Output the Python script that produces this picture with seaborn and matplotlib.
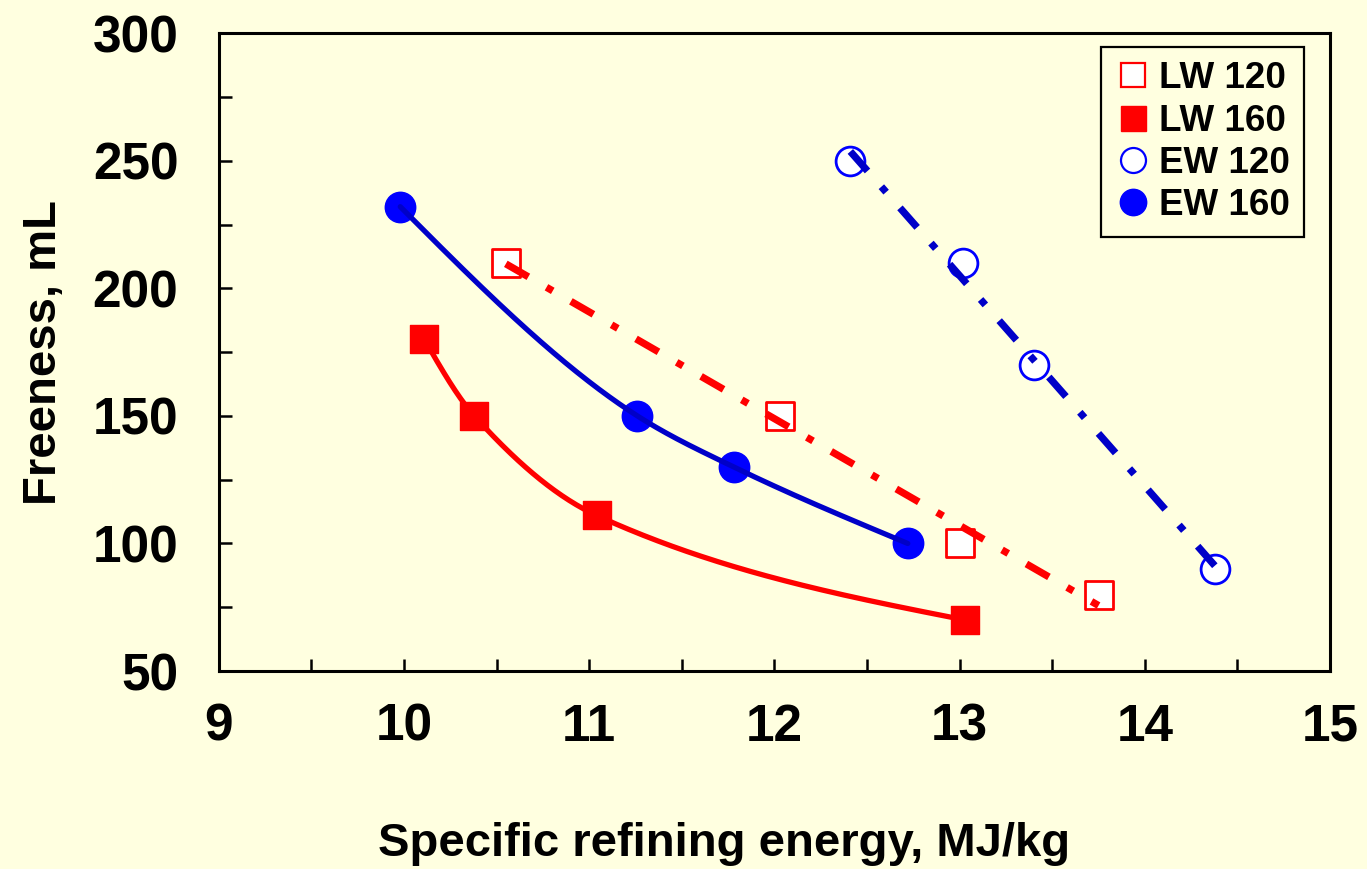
import numpy as np
import matplotlib
matplotlib.use("Agg")
import matplotlib.pyplot as plt
from matplotlib.lines import Line2D
import seaborn as sns

# Specific refining energy (MJ/kg) vs freeness (mL)
lw120_x = [10.55, 12.03, 13.00, 13.75]
lw120_y = [210, 150, 100, 80]
lw160_x = [10.11, 10.38, 11.04, 13.03]
lw160_y = [180, 150, 111, 70]
ew120_x = [12.41, 13.02, 13.40, 14.38]
ew120_y = [250, 210, 170, 90]
ew160_x = [9.98, 11.26, 11.78, 12.72]
ew160_y = [232, 150, 130, 100]

x_ticks = [9, 10, 11, 12, 13, 14, 15]
y_ticks = [50, 100, 150, 200, 250, 300]

BG = "#FFFFE0"
RED = "#FF0000"
BLUE = "#0000FF"
DARK_BLUE = "#0000C8"

sns.set_style("ticks")
plt.rcParams["font.family"] = ["Liberation Sans", "DejaVu Sans"]
plt.rcParams["font.weight"] = "bold"
plt.rcParams["text.color"] = "black"
plt.rcParams["axes.labelcolor"] = "black"
plt.rcParams["xtick.color"] = "black"
plt.rcParams["ytick.color"] = "black"

fig = plt.figure(figsize=(13.67, 8.69), dpi=100, facecolor=BG)
ax = fig.add_axes([0.160, 0.2278, 0.813, 0.734])
ax.set_facecolor(BG)
ax.set_xlim(9, 15)
ax.set_ylim(50, 300)


def linear_trend(xs, ys, n=100):
    k, b = np.polyfit(xs, ys, 1)
    xx = np.linspace(min(xs), max(xs), n)
    return xx, k * xx + b


def smooth_curve(xs, ys, n=300):
    # shape-preserving cubic Hermite curve through the points,
    # with free (quadratic) end tangents
    x = np.asarray(xs, float)
    y = np.asarray(ys, float)
    h = np.diff(x)
    d = np.diff(y) / h
    m = np.zeros_like(x)
    for k in range(1, len(x) - 1):
        if d[k - 1] * d[k] > 0:
            w1 = 2 * h[k] + h[k - 1]
            w2 = h[k] + 2 * h[k - 1]
            m[k] = (w1 + w2) / (w1 / d[k - 1] + w2 / d[k])
    m[0] = (3 * d[0] - m[1]) / 2
    m[-1] = (3 * d[-1] - m[-2]) / 2
    xx = np.linspace(x[0], x[-1], n)
    idx = np.clip(np.searchsorted(x, xx) - 1, 0, len(x) - 2)
    t = (xx - x[idx]) / h[idx]
    h00 = 2 * t ** 3 - 3 * t ** 2 + 1
    h10 = t ** 3 - 2 * t ** 2 + t
    h01 = -2 * t ** 3 + 3 * t ** 2
    h11 = t ** 3 - t ** 2
    yy = (h00 * y[idx] + h10 * h[idx] * m[idx]
          + h01 * y[idx + 1] + h11 * h[idx] * m[idx + 1])
    return xx, yy


dashdot = (0, (3.6, 2.9, 1.0, 2.9))

# markers
sns.scatterplot(x=lw120_x, y=lw120_y, marker="s", s=380, facecolor="white",
                edgecolor=RED, linewidth=2, ax=ax, zorder=3)
sns.scatterplot(x=lw160_x, y=lw160_y, marker="s", s=410, color=RED,
                edgecolor=RED, linewidth=1, ax=ax, zorder=3)
sns.scatterplot(x=ew120_x, y=ew120_y, marker="o", s=430, facecolor="white",
                edgecolor=BLUE, linewidth=2, ax=ax, zorder=3)
sns.scatterplot(x=ew160_x, y=ew160_y, marker="o", s=480, color=BLUE,
                edgecolor=BLUE, linewidth=1, ax=ax, zorder=3)

# trend lines and smoothed curves
tx, ty = linear_trend(lw120_x, lw120_y)
sns.lineplot(x=tx, y=ty, color=RED, lw=5.2, ax=ax, zorder=4, sort=False,
             linestyle=dashdot, dash_capstyle="butt")
tx, ty = linear_trend(ew120_x, ew120_y)
sns.lineplot(x=tx, y=ty, color=DARK_BLUE, lw=5.2, ax=ax, zorder=4, sort=False,
             linestyle=dashdot, dash_capstyle="butt")
cx, cy = smooth_curve(lw160_x, lw160_y)
sns.lineplot(x=cx, y=cy, color=RED, lw=3.8, ax=ax, zorder=4, sort=False)
cx, cy = smooth_curve(ew160_x, ew160_y)
sns.lineplot(x=cx, y=cy, color=DARK_BLUE, lw=3.8, ax=ax, zorder=4, sort=False)

# axes styling
for sp in ax.spines.values():
    sp.set_visible(True)
    sp.set_color("black")
    sp.set_linewidth(2.2)
ax.set_xticks(x_ticks)
ax.set_yticks(y_ticks)
ax.set_xticks(np.arange(9.5, 15, 1.0), minor=True)
ax.set_yticks(np.arange(75, 300, 50), minor=True)
ax.tick_params(which="both", direction="in", length=9, width=1.8,
               color="black", top=False, right=False)
ax.tick_params(axis="x", which="major", labelsize=37, pad=23)
ax.tick_params(axis="y", which="major", labelsize=37, pad=29)
for lab in ax.get_xticklabels() + ax.get_yticklabels():
    lab.set_fontweight("bold")

ax.set_xlabel("Specific refining energy, MJ/kg", fontsize=34, fontweight="bold")
ax.xaxis.set_label_coords(0.4545, -0.2705)
ax.xaxis.label.set_va("center")
ax.set_ylabel("Freeness, mL", fontsize=34, fontweight="bold", labelpad=19)

handles = [
    Line2D([], [], ls="", marker="s", ms=17, mfc="white", mec=RED, mew=1.6),
    Line2D([], [], ls="", marker="s", ms=18, mfc=RED, mec=RED),
    Line2D([], [], ls="", marker="o", ms=18, mfc="white", mec=BLUE, mew=1.6),
    Line2D([], [], ls="", marker="o", ms=19, mfc=BLUE, mec=BLUE),
]
labels = ["LW 120", "LW 160", "EW 120", "EW 160"]
leg = ax.legend(handles, labels, loc="upper right",
                bbox_to_anchor=(0.9766, 0.978), prop={"size": 26.5, "weight": "bold"},
                frameon=True, fancybox=False, facecolor=BG, edgecolor="black",
                framealpha=1, handletextpad=0.2, labelspacing=0.2,
                borderpad=0.38, handlelength=1.0, borderaxespad=0)
leg.get_frame().set_linewidth(1.6)

fig.savefig("out.png", dpi=100, facecolor=BG)
